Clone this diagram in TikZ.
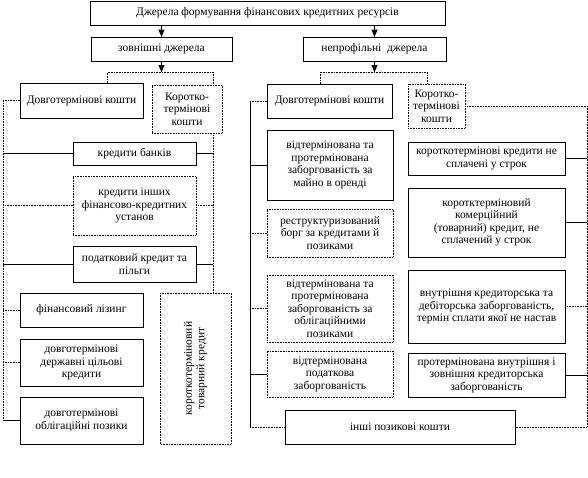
\documentclass[tikz,border=0pt]{standalone}
\usepackage{fontspec}
\setmainfont{Liberation Serif}
\usetikzlibrary{shadows}
\tikzset{
  box/.style={draw, fill=white, line width=0.6pt, align=center, inner sep=2pt,
    font=\fontsize{11.5}{12.5}\selectfont},
  sbox/.style={box, drop shadow={shadow xshift=0.9pt, shadow yshift=-0.9pt, fill=black, opacity=1}},
  dbox/.style={box, densely dotted},
  sln/.style={line width=0.6pt},
  dln/.style={line width=0.6pt, densely dotted},
  shaft/.style={line width=1.5pt},
  tiphead/.style={fill=black}
}

\begin{document}
\begin{tikzpicture}[x=1pt,y=-1pt]
\useasboundingbox (0,0) rectangle (588,477);

\node[sbox, minimum width=355pt, minimum height=24pt] (top) at (267.5,13) {Джерела формування фінансових кредитних ресурсів};
\node[sbox, minimum width=141pt, minimum height=24pt] (zovn) at (161.5,49) {зовнішні джерела};
\node[sbox, minimum width=143pt, minimum height=24pt] (neprof) at (374.5,49) {непрофільні\ \ джерела};

% left group
\node[sbox, minimum width=123pt, minimum height=35pt] (ldovg) at (81.5,100.5) {Довготермінові кошти};
\node[dbox, minimum width=70pt, minimum height=48pt] (lkor) at (187,109) {Коротко-\\термінові\\кошти};
\node[sbox, minimum width=123pt, minimum height=23pt] (lbank) at (134.5,153.5) {кредити банків};
\node[dbox, minimum width=123pt, minimum height=59pt] (linsh) at (134.5,205.5) {кредити інших\\фінансово-кредитних\\установ};
\node[sbox, minimum width=123pt, minimum height=36pt] (lpodat) at (134.5,264) {податковий кредит та\\пільги};
\node[sbox, minimum width=123pt, minimum height=34pt] (lliz) at (81.5,310) {фінансовий лізинг};
\node[sbox, minimum width=123pt, minimum height=47pt] (lderzh) at (81.5,362.5) {довготермінові\\державні цільові\\кредити};
\node[sbox, minimum width=123pt, minimum height=47pt] (lobl) at (81.5,420.5) {довготермінові\\облігаційні позики};
\node[dbox, rotate=90, minimum width=151pt, minimum height=71pt] (ltov) at (195.5,368.5) {короткотерміновий\\товарний кредит};

% right group
\node[sbox, minimum width=125pt, minimum height=34pt] (rdovg) at (329.5,101) {Довготермінові кошти};
\node[dbox, minimum width=57pt, minimum height=44pt] (rkor) at (436.5,106) {Коротко-\\термінові\\кошти};
\node[sbox, minimum width=126pt, minimum height=70pt] (rvid) at (330,165) {відтермінована та\\протермінована\\заборгованість за\\майно в оренді};
\node[dbox, minimum width=126pt, minimum height=48pt] (rrestr) at (330,233) {реструктуризований\\борг за кредитами й\\позиками};
\node[dbox, minimum width=126pt, minimum height=67pt] (robl) at (330,308.5) {відтермінована та\\протермінована\\заборгованість за\\облігаційними\\позиками};
\node[dbox, minimum width=126pt, minimum height=46pt] (rpod) at (330,374) {відтермінована\\податкова\\заборгованість};
\node[sbox, minimum width=230pt, minimum height=34pt] (rinsh) at (400,427) {інші позикові кошти};
\node[sbox, minimum width=157pt, minimum height=33pt] (rkred) at (486.5,158.5) {короткотермінові кредити не\\сплачені у строк};
\node[sbox, minimum width=157pt, minimum height=69pt] (rkom) at (486.5,222.5) {коротктерміновий\\комерційний\\(товарний) кредит, не\\сплачений у строк};
\node[sbox, minimum width=157pt, minimum height=73pt] (rvnut) at (486.5,306.5) {внутрішня кредиторська та\\дебіторська заборгованість,\\термін сплати якої не настав};
\node[sbox, minimum width=157pt, minimum height=44pt] (rprot) at (486.5,375) {протермінована внутрішня і\\зовнішня кредиторська\\заборгованість};

\coordinate (lbl) at (3,0);
\coordinate (lbr) at (213,0);
\coordinate (lfa) at (107,72);
\coordinate (lfb) at (161.5,72);
\coordinate (rbl) at (250,0);
\coordinate (rbr) at (587,0);
\coordinate (rfa) at (320,72);
\coordinate (rfc) at (374.5,72);
\coordinate (rfb) at (427,0);

% arrows
\draw[shaft] (zovn.north |- top.south) -- (zovn.north);
\draw[shaft] (neprof.north |- top.south) -- (neprof.north);
\draw[shaft] (zovn.south) -- (lfb);
\draw[shaft] (neprof.south) -- (rfc);
\fill[tiphead] (zovn.north) -- ++(-3.2,-7) -- ++(6.4,0) -- cycle;
\fill[tiphead] (neprof.north) -- ++(-3.2,-7) -- ++(6.4,0) -- cycle;
\fill[tiphead] (lfb) -- ++(-3.2,-7) -- ++(6.4,0) -- cycle;
\fill[tiphead] (rfc) -- ++(-3.2,-7) -- ++(6.4,0) -- cycle;

% left links
\draw[dln] (ldovg.north -| lfa) -- (lfa) -| (lkor.north -| lbr);
\draw[dln] (ldovg.west) -| (lobl.west -| lbl);
\draw[dln] (lkor.south -| lbr) -- (ltov.east -| lbr);
\draw[sln] (lbank.west) -- (lbank.west -| lbl);
\draw[sln] (lbank.east) -- (lbank.east -| lbr);
\draw[dln] (linsh.west) -- (linsh.west -| lbl);
\draw[dln] (linsh.east) -- (linsh.east -| lbr);
\draw[sln] (lpodat.west) -- (lpodat.west -| lbl);
\draw[sln] (lpodat.east) -- (lpodat.east -| lbr);
\draw[dln] (lliz.west) -- (lliz.west -| lbl);
\draw[dln] (lderzh.west) -- (lderzh.west -| lbl);
\draw[sln] (lobl.west) -- (lobl.west -| lbl);

% right links
\draw[dln] (rdovg.north -| rfa) -- (rfa) -| (rkor.north -| rfb);
\draw[dln] (rdovg.west) -- (rdovg.west -| rbl);
\draw[sln] (rdovg.west -| rbl) -- (rinsh.west -| rbl);
\draw[dln] (rinsh.west -| rbl) -- (rinsh.west);
\draw[dln] (rkor.east) -| (rinsh.east -| rbr) -- (rinsh.east);
\draw[sln] (rvid.west) -- (rvid.west -| rbl);
\draw[dln] (rrestr.west) -- (rrestr.west -| rbl);
\draw[dln] (robl.west) -- (robl.west -| rbl);
\draw[sln] (rpod.west) -- (rpod.west -| rbl);
\draw[sln] (rkred.east) -- (rkred.east -| rbr);
\draw[sln] (rkom.east) -- (rkom.east -| rbr);
\draw[dln] (rvnut.east) -- (rvnut.east -| rbr);
\draw[sln] (rprot.east) -- (rprot.east -| rbr);
\end{tikzpicture}
\end{document}
